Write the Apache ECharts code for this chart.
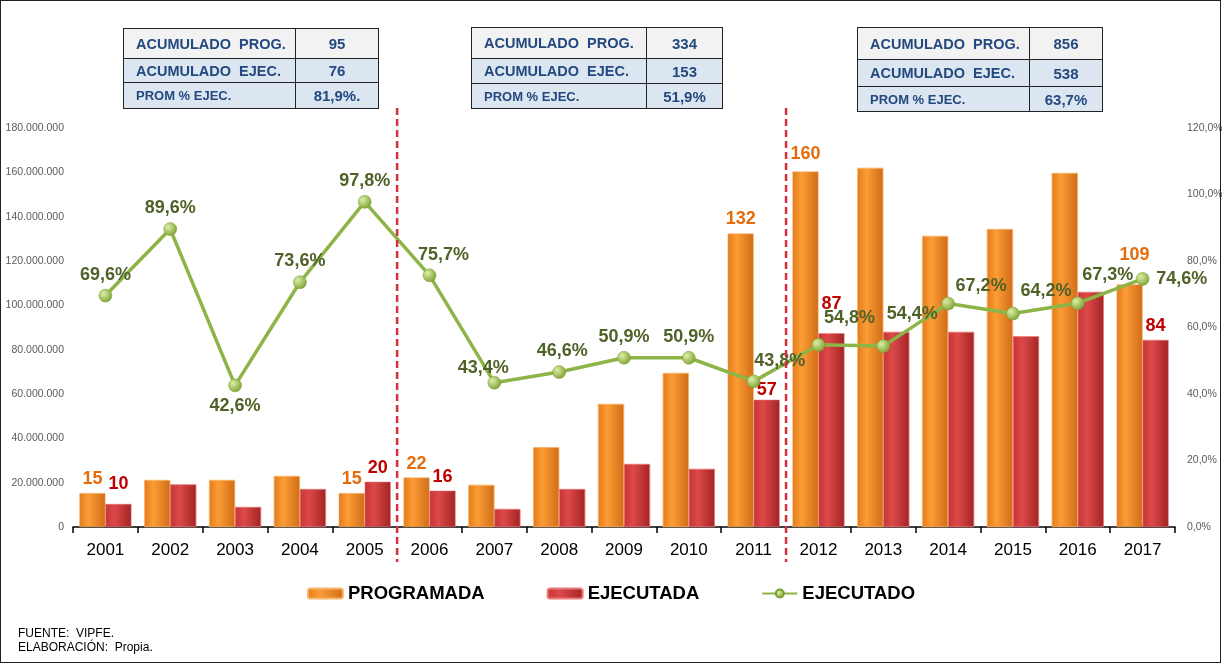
<!DOCTYPE html>
<html>
<head>
<meta charset="utf-8">
<script src="https://cdn.jsdelivr.net/npm/echarts@6/dist/echarts.min.js"></script>
<style>
  body { margin: 0; background: #fff; }
  #wrap { position: relative; width: 1222px; height: 664px; font-family: "Liberation Sans", Arial, sans-serif; }
  #main { position: absolute; left: 0; top: 0; width: 1222px; height: 664px; }
  #frame { position: absolute; left: 0; top: 0; width: 1221px; height: 663px; border: 1.5px solid #222; box-sizing: border-box; pointer-events: none; }
  table.res { position: absolute; border-collapse: collapse; color: #23497e; font-weight: bold; }
  table.res td { border: 1.5px solid #222; padding: 0; white-space: pre; }
  table.res td.lab { padding-left: 12px; font-size: 14.5px; }
  table.res td.val { text-align: center; font-size: 15px; }
  table.res tr.r1 td { background: #f2f2f2; }
  table.res tr.r2 td, table.res tr.r3 td { background: #dce6f1; }
  table.res tr.r3 td.lab { font-size: 13px; }
</style>
</head>
<body>
<div id="wrap">
  <div id="main"></div>
  <div id="tables"></div>
  <div id="frame"></div>
</div>
<script>
// data
var years = ['2001', '2002', '2003', '2004', '2005', '2006', '2007', '2008', '2009',
  '2010', '2011', '2012', '2013', '2014', '2015', '2016', '2017'];
var programada = [15300000, 21200000, 21200000, 23000000, 15300000, 22300000, 19000000, 36000000, 55500000,
  69500000, 132400000, 160400000, 162000000, 131300000, 134400000, 159700000, 109400000];
var ejecutada = [10400000, 19200000, 9000000, 17100000, 20400000, 16400000, 8100000, 17100000, 28400000,
  26200000, 57400000, 87400000, 88000000, 88000000, 86000000, 106000000, 84400000];
var ejecutado = [69.6, 89.6, 42.6, 73.6, 97.8, 75.7, 43.4, 46.6, 50.9,
  50.9, 43.8, 54.8, 54.4, 67.2, 64.2, 67.3, 74.6];

var tableLabels = ['ACUMULADO  PROG.', 'ACUMULADO  EJEC.', 'PROM % EJEC.'];
var tablePeriod1 = ['95', '76', '81,9%.'];
var tablePeriod2 = ['334', '153', '51,9%'];
var tablePeriod3 = ['856', '538', '63,7%'];

// period dividers go between these category indexes
var dividers = [[4, 5], [10, 11]];

// summary tables (layout)
var tableBoxes = [
  { vals: tablePeriod1, left: 123, top: 28, w: 256, col: 171, rows: [30, 24, 26] },
  { vals: tablePeriod2, left: 471, top: 27, w: 252, col: 174, rows: [31, 25, 25] },
  { vals: tablePeriod3, left: 857, top: 27, w: 246, col: 171, rows: [32, 27, 25] }
];
var html = '';
tableBoxes.forEach(function (t) {
  html += '<table class="res" style="left:' + t.left + 'px;top:' + t.top + 'px;width:' + t.w + 'px">';
  for (var i = 0; i < 3; i++) {
    html += '<tr class="r' + (i + 1) + '" style="height:' + t.rows[i] + 'px"><td class="lab" style="width:' + (t.col - 12) + 'px">' +
      tableLabels[i] + '</td><td class="val">' + t.vals[i] + '</td></tr>';
  }
  html += '</table>';
});
document.getElementById('tables').innerHTML = html;

// per-point label styles
var progLabelPos = { 0: {}, 4: {}, 5: {}, 10: {}, 11: { offset: [0, -3] }, 16: { offset: [5, -15] } };
var ejecLabelPos = { 0: { offset: [0, -6] }, 4: {}, 5: {}, 10: { offset: [0, 4] }, 11: { offset: [0, -15] }, 16: {} };
var lineLabelPos = {
  2: { position: 'bottom' },
  5: { offset: [14, 0] },
  6: { offset: [-11, 6] },
  7: { offset: [3, 0] },
  10: { offset: [26, 0] },
  11: { offset: [31, -6] },
  12: { offset: [29, -11] },
  13: { offset: [33, 3] },
  14: { offset: [33, -2] },
  15: { offset: [30, -7] },
  16: { position: 'right', distance: 7 }
};

function barData(values, labelPos, color) {
  return values.map(function (v, i) {
    var item = { value: v };
    if (labelPos[i]) {
      item.label = Object.assign({
        show: true, position: 'top', distance: 5, color: color,
        fontSize: 18, fontWeight: 'bold', fontFamily: 'Liberation Sans',
        formatter: function (p) { return Math.round(p.value / 1e6); }
      }, labelPos[i]);
    }
    return item;
  });
}

var lineData = ejecutado.map(function (v, i) {
  return { value: v, label: Object.assign({ position: 'top' }, lineLabelPos[i] || {}) };
});

function thousands(v) {
  return String(v).replace(/\B(?=(\d{3})+(?!\d))/g, '.');
}

var orangeFill = new echarts.graphic.LinearGradient(0, 0, 1, 0, [
  { offset: 0, color: '#e27b1c' }, { offset: 0.35, color: '#fc9d36' }, { offset: 1, color: '#d06c17' }
]);
var redFill = new echarts.graphic.LinearGradient(0, 0, 1, 0, [
  { offset: 0, color: '#c63434' }, { offset: 0.35, color: '#dd4949' }, { offset: 1, color: '#a32424' }
]);
var dotFill = new echarts.graphic.RadialGradient(0.35, 0.35, 0.75, [
  { offset: 0, color: '#dcefa6' }, { offset: 1, color: '#789c2a' }
]);

var myChart = echarts.init(document.getElementById('main'));
var option = {
  animation: false,
  textStyle: { fontFamily: 'Liberation Sans' },
  grid: { left: 73, right: 47, top: 128, bottom: 137, containLabel: false, outerBoundsMode: 'none' },
  legend: {
    bottom: 56,
    left: 'center',
    itemWidth: 35,
    itemHeight: 10,
    itemGap: 62,
    textStyle: { fontSize: 18.5, fontWeight: 'bold', color: '#000' },
    data: ['PROGRAMADA', 'EJECUTADA', 'EJECUTADO']
  },
  xAxis: {
    type: 'category',
    data: years,
    axisLine: { lineStyle: { color: '#000', width: 1.5 } },
    axisTick: { show: true, length: 6, lineStyle: { color: '#000', width: 1.5 } },
    axisLabel: { fontSize: 17, color: '#000', margin: 15 }
  },
  yAxis: [
    {
      type: 'value', min: 0, max: 180000000, interval: 20000000,
      splitLine: { show: false }, axisLine: { show: false }, axisTick: { show: false },
      axisLabel: { fontSize: 10.5, color: '#5a5a5a', margin: 9, formatter: thousands }
    },
    {
      type: 'value', min: 0, max: 120, interval: 20,
      splitLine: { show: false }, axisLine: { show: false }, axisTick: { show: false },
      axisLabel: {
        fontSize: 10.5, color: '#5a5a5a', margin: 12,
        formatter: function (v) { return v.toFixed(1).replace('.', ',') + '%'; }
      }
    }
  ],
  series: [
    {
      name: 'PROGRAMADA', type: 'bar', barWidth: 26, barGap: '0%',
      itemStyle: { color: orangeFill, borderColor: '#f6b56a', borderWidth: 0.5 },
      data: barData(programada, progLabelPos, '#e46c0a')
    },
    {
      name: 'EJECUTADA', type: 'bar', barWidth: 26,
      itemStyle: { color: redFill, borderColor: '#e87a7a', borderWidth: 0.5 },
      data: barData(ejecutada, ejecLabelPos, '#c00000')
    },
    {
      name: 'EJECUTADO', type: 'line', yAxisIndex: 1, z: 5,
      symbol: 'circle', symbolSize: 13,
      lineStyle: { color: '#8db446', width: 3.5 },
      itemStyle: { color: dotFill, borderColor: '#7a9e30', borderWidth: 0.5 },
      label: {
        show: true, distance: 5, color: '#4f6228', fontSize: 18, fontWeight: 'bold',
        formatter: function (p) { return p.value.toFixed(1).replace('.', ',') + '%'; }
      },
      data: lineData
    }
  ]
};
myChart.setOption(option);

// dashed period dividers + footer
var graphics = dividers.map(function (d) {
  var x = (myChart.convertToPixel({ xAxisIndex: 0 }, d[0]) + myChart.convertToPixel({ xAxisIndex: 0 }, d[1])) / 2;
  return {
    type: 'line', z: 10,
    shape: { x1: x, y1: 108, x2: x, y2: 562 },
    style: { stroke: '#d6303c', lineWidth: 2.5, lineDash: [7, 4] }
  };
});
graphics.push({
  type: 'text', left: 18, top: 628,
  style: { text: 'FUENTE:  VIPFE.', fill: '#000', font: '12px "Liberation Sans"' }
});
graphics.push({
  type: 'text', left: 18, top: 642,
  style: { text: 'ELABORACIÓN:  Propia.', fill: '#000', font: '12px "Liberation Sans"' }
});
myChart.setOption({ graphic: graphics });
</script>
</body>
</html>
